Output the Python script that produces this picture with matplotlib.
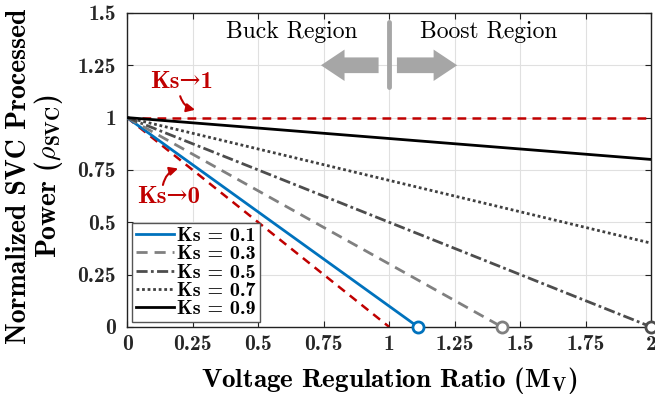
import matplotlib
matplotlib.use("Agg")
import matplotlib.pyplot as plt

plt.rcParams['font.family'] = ['cmb10', 'DejaVu Serif']
plt.rcParams['mathtext.fontset'] = 'cm'
plt.rcParams['axes.unicode_minus'] = False
plt.rcParams['axes.formatter.use_mathtext'] = False

# ---- data ----
ks_labels = ['0.1', '0.3', '0.5', '0.7', '0.9']
x_start = [0.0, 0.0, 0.0, 0.0, 0.0]
y_start = [1.0, 1.0, 1.0, 1.0, 1.0]
x_end = [1.11, 1.43, 2.0, 2.0, 2.0]
y_end = [0.0, 0.0, 0.0, 0.4, 0.8]
zero_cross_x = [1.11, 1.43, 2.0]
zero_cross_y = [0.0, 0.0, 0.0]

ks0_x = [0.0, 1.0]
ks0_y = [1.0, 0.0]
ks1_x = [0.0, 2.0]
ks1_y = [1.0, 1.0]

xticks = [0, 0.25, 0.5, 0.75, 1, 1.25, 1.5, 1.75, 2]
xtick_labels = ['0', '0.25', '0.5', '0.75', '1', '1.25', '1.5', '1.75', '2']
yticks = [0, 0.25, 0.5, 0.75, 1, 1.25, 1.5]
ytick_labels = ['0', '0.25', '0.5', '0.75', '1', '1.25', '1.5']

colors = ['#0072BD', '#808080', '#4d4d4d', '#404040', '#000000']
styles = ['-', (0, (4, 2.5)), (0, (4, 1.2, 1, 1.2)), (0, (1, 1)), '-']
red = '#C00000'

fig = plt.figure(figsize=(6.55, 4.05), dpi=100)
ax = fig.add_axes([0.194, 0.193, 0.800, 0.775])

for i in range(5):
    ax.plot([x_start[i], x_end[i]], [y_start[i], y_end[i]], color=colors[i],
            linestyle=styles[i], lw=2.0,
            label='Ks = ' + ks_labels[i], zorder=3)

ax.plot(ks0_x, ks0_y, color=red, linestyle=(0, (3.5, 2.5)), lw=1.8, zorder=2)
ax.plot(ks1_x, ks1_y, color=red, linestyle=(0, (3.5, 2.5)), lw=1.8, zorder=2)

for i in range(3):
    ax.plot(zero_cross_x[i], zero_cross_y[i], 'o', ms=8, mfc='white',
            mec=colors[i], mew=2, zorder=5, clip_on=False)

ax.set_xlim(0, 2)
ax.set_ylim(0, 1.5)
ax.set_xticks(xticks)
ax.set_xticklabels(xtick_labels)
ax.set_yticks(yticks)
ax.set_yticklabels(ytick_labels)
ax.tick_params(direction='in', top=True, right=True, labelsize=15.5, length=4,
               color='#222222', labelcolor='#262626')
ax.tick_params(axis='x', pad=6)
ax.tick_params(axis='y', pad=8)
ax.grid(True, color='#e0e0e0', lw=0.8)
ax.set_axisbelow(True)
for s in ax.spines.values():
    s.set_color('#222222')
    s.set_linewidth(1.0)

ax.set_xlabel(r'Voltage Regulation Ratio (M$_{\mathbf{V}}$)', fontsize=19.5, labelpad=8)
ax.set_ylabel('Normalized SVC Processed\n' + r'Power ($\rho_{\mathbf{SVC}}$)',
              fontsize=20, linespacing=1.0)
ax.yaxis.set_label_coords(-0.118, 0.48)

# region annotations
ax.text(0.63, 1.41, 'Buck Region', fontsize=17, ha='center', va='center',
        family=['cmr10', 'DejaVu Serif'])
ax.text(1.38, 1.41, 'Boost Region', fontsize=17, ha='center', va='center',
        family=['cmr10', 'DejaVu Serif'])
gray = '#a6a6a6'
ax.plot([1.0, 1.0], [1.145, 1.455], color=gray, lw=3.5, solid_capstyle='round')
ax.arrow(0.96, 1.25, -0.22, 0, width=0.075, head_width=0.15, head_length=0.09,
         length_includes_head=True, color=gray, lw=0)
ax.arrow(1.03, 1.25, 0.23, 0, width=0.075, head_width=0.15, head_length=0.09,
         length_includes_head=True, color=gray, lw=0)

ax.text(0.21, 1.17, 'Ks→1', color=red, fontsize=18, ha='center', va='center')
ax.annotate('', xy=(0.27, 1.035), xytext=(0.2, 1.115),
            arrowprops=dict(arrowstyle='-|>,head_length=0.5,head_width=0.25',
                            color=red, lw=1.5, connectionstyle='arc3,rad=0.35'))
ax.text(0.16, 0.62, 'Ks→0', color=red, fontsize=18, ha='center', va='center')
ax.annotate('', xy=(0.205, 0.76), xytext=(0.135, 0.665),
            arrowprops=dict(arrowstyle='-|>,head_length=0.5,head_width=0.25',
                            color=red, lw=1.5, connectionstyle='arc3,rad=-0.35'))

leg = ax.legend(loc='lower left', fontsize=14.5, labelspacing=0.0, handlelength=1.9,
                handletextpad=0.15, borderpad=0.2, borderaxespad=0.25,
                fancybox=False, edgecolor='#555555', framealpha=1)
leg.get_frame().set_linewidth(1.0)

fig.savefig('out.png', dpi=100)
